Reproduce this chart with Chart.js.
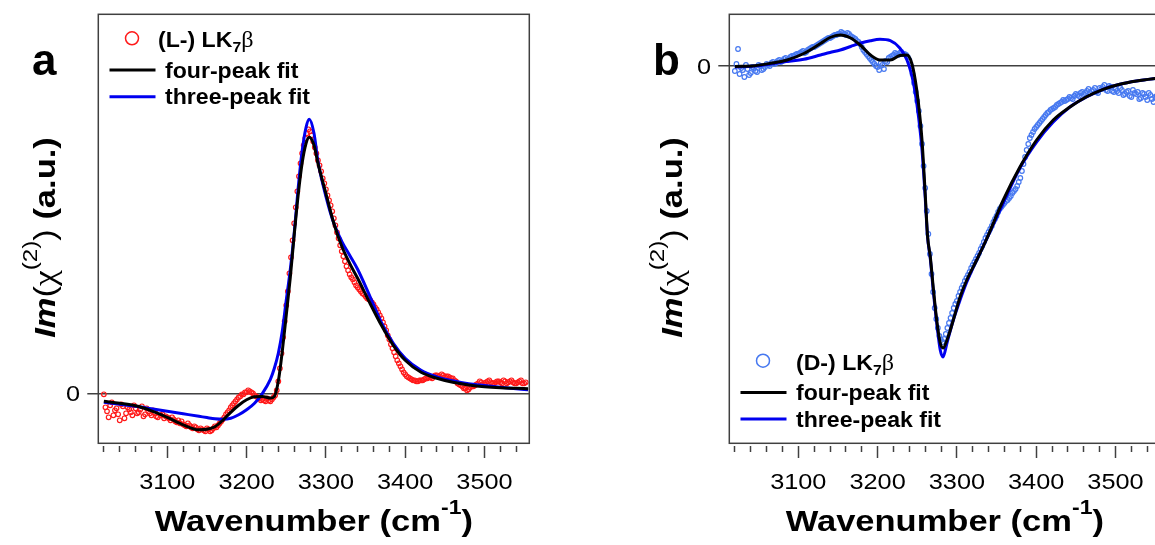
<!DOCTYPE html>
<html>
<head>
<meta charset="utf-8">
<script src="https://cdn.jsdelivr.net/npm/chart.js@4.4.1/dist/chart.umd.min.js"></script>
<style>
  html, body { margin: 0; padding: 0; background: #fff; overflow: hidden; width: 1155px; height: 545px; }
  .panel { position: absolute; top: 0; width: 560px; height: 545px; }
  #wrapA { left: 0; }
  #wrapB { left: 631px; }
</style>
</head>
<body>
<div class="panel" id="wrapA"><canvas id="chartA" width="560" height="545"></canvas></div>
<div class="panel" id="wrapB"><canvas id="chartB" width="560" height="545"></canvas></div>
<script>
// ---- data ----
const xTickLabels = [3100, 3200, 3300, 3400, 3500];

// panel a : (L-) LK7beta
const fitXA = [3020, 3040, 3060, 3080, 3100, 3120, 3140, 3150, 3160, 3170, 3180, 3190, 3200, 3210, 3220,
  3230, 3235, 3240, 3245, 3250, 3255, 3260, 3265, 3270, 3275, 3279, 3285, 3290, 3300, 3310,
  3320, 3330, 3340, 3355, 3370, 3385, 3400, 3420, 3440, 3460, 3480, 3500, 3520, 3540, 3555];
const fourPeakA = [-0.08, -0.10, -0.125, -0.175, -0.24, -0.315, -0.365, -0.36, -0.335, -0.27, -0.19, -0.12, -0.065, -0.035, -0.032,
  -0.048, -0.03, 0.12, 0.42, 0.78, 1.15, 1.58, 1.98, 2.30, 2.50, 2.56, 2.48, 2.30, 2.00, 1.70,
  1.47, 1.30, 1.15, 0.91, 0.68, 0.48, 0.33, 0.21, 0.15, 0.11, 0.083, 0.065, 0.055, 0.05, 0.046];
const threePeakA = [-0.09, -0.11, -0.13, -0.155, -0.18, -0.205, -0.23, -0.243, -0.255, -0.26, -0.25, -0.215, -0.165, -0.10, 0.0,
  0.14, 0.25, 0.40, 0.62, 0.93, 1.23, 1.60, 2.05, 2.42, 2.66, 2.74, 2.60, 2.32, 1.97, 1.70,
  1.52, 1.38, 1.24, 0.98, 0.71, 0.50, 0.35, 0.23, 0.165, 0.125, 0.095, 0.077, 0.06, 0.045, 0.035];

const dataXA = [3020, 3024, 3028, 3032, 3036, 3040, 3044, 3048, 3052, 3056,
  3060, 3064, 3068, 3072, 3076, 3080, 3084, 3088, 3092, 3096,
  3100, 3104, 3108, 3112, 3116, 3120, 3124, 3128, 3132, 3136,
  3140, 3144, 3148, 3152, 3156, 3160, 3164, 3168, 3172, 3176,
  3180, 3184, 3188, 3192, 3196, 3200, 3204, 3208, 3212, 3216,
  3220, 3224, 3228, 3232, 3236, 3240, 3244, 3248, 3252, 3256,
  3260, 3264, 3268, 3272, 3276, 3280, 3284, 3288, 3292, 3296,
  3300, 3304, 3308, 3312, 3316, 3320, 3324, 3328, 3332, 3336,
  3340, 3344, 3348, 3352, 3356, 3360, 3364, 3368, 3372, 3376,
  3380, 3384, 3388, 3392, 3396, 3400, 3404, 3408, 3412, 3416,
  3420, 3424, 3428, 3432, 3436, 3440, 3444, 3448, 3452, 3456,
  3460, 3464, 3468, 3472, 3476, 3480, 3484, 3488, 3492, 3496,
  3500, 3504, 3508, 3512, 3516, 3520, 3524, 3528, 3532, 3536,
  3540, 3544, 3548, 3552];
const signalA = [-0.01, -0.18, -0.12, -0.22, -0.15, -0.27, -0.13, -0.20, -0.16, -0.22,
  -0.15, -0.19, -0.13, -0.21, -0.18, -0.22, -0.20, -0.24, -0.22, -0.25,
  -0.24, -0.27, -0.26, -0.29, -0.30, -0.31, -0.33, -0.32, -0.35, -0.34,
  -0.37, -0.36, -0.38, -0.36, -0.37, -0.33, -0.32, -0.28, -0.24, -0.19,
  -0.14, -0.10, -0.06, -0.03, -0.01, 0.01, 0.02, 0.00, -0.03, -0.05,
  -0.06, -0.08, -0.07, -0.06, -0.02, 0.12, 0.40, 0.72, 1.02, 1.36,
  1.70, 2.02, 2.30, 2.48, 2.60, 2.62, 2.52, 2.40, 2.28, 2.15,
  2.04, 1.93, 1.82, 1.68, 1.55, 1.42, 1.32, 1.23, 1.16, 1.11,
  1.06, 1.02, 0.99, 0.95, 0.93, 0.89, 0.84, 0.78, 0.71, 0.63,
  0.54, 0.45, 0.37, 0.30, 0.24, 0.19, 0.16, 0.14, 0.13, 0.12,
  0.13, 0.14, 0.15, 0.16, 0.17, 0.18, 0.17, 0.18, 0.17, 0.16,
  0.15, 0.12, 0.09, 0.07, 0.05, 0.04, 0.07, 0.08, 0.10, 0.11,
  0.10, 0.12, 0.11, 0.10, 0.12, 0.11, 0.13, 0.10, 0.12, 0.11,
  0.10, 0.12, 0.10, 0.11];

// in-between samples of the same measurement
const dataXA2 = [3022, 3026, 3030, 3034, 3038, 3042, 3046, 3050, 3054, 3058,
  3062, 3066, 3070, 3074, 3078, 3082, 3086, 3090, 3094, 3098,
  3102, 3106, 3110, 3114, 3118, 3122, 3126, 3130, 3134, 3138,
  3142, 3146, 3150, 3154, 3158, 3162, 3166, 3170, 3174, 3178,
  3182, 3186, 3190, 3194, 3198, 3202, 3206, 3210, 3214, 3218,
  3222, 3226, 3230, 3234, 3238, 3242, 3246, 3250, 3254, 3258,
  3262, 3266, 3270, 3274, 3278, 3282, 3286, 3290, 3294, 3298,
  3302, 3306, 3310, 3314, 3318, 3322, 3326, 3330, 3334, 3338,
  3342, 3346, 3350, 3354, 3358, 3362, 3366, 3370, 3374, 3378,
  3382, 3386, 3390, 3394, 3398, 3402, 3406, 3410, 3414, 3418,
  3422, 3426, 3430, 3434, 3438, 3442, 3446, 3450, 3454, 3458,
  3462, 3466, 3470, 3474, 3478, 3482, 3486, 3490, 3494, 3498,
  3502, 3506, 3510, 3514, 3518, 3522, 3526, 3530, 3534, 3538,
  3542, 3546, 3550];
const signalA2 = [-0.14, -0.24, -0.09, -0.17, -0.21, -0.11, -0.25, -0.14, -0.19, -0.12,
  -0.20, -0.16, -0.23, -0.15, -0.20, -0.17, -0.23, -0.19, -0.21, -0.23,
  -0.25, -0.24, -0.28, -0.27, -0.28, -0.32, -0.30, -0.34, -0.33, -0.36,
  -0.35, -0.37, -0.35, -0.38, -0.35, -0.34, -0.30, -0.26, -0.21, -0.17,
  -0.12, -0.08, -0.04, -0.01, 0.01, 0.03, 0.01, -0.02, -0.04, -0.07,
  -0.07, -0.05, -0.08, -0.04, 0.03, 0.25, 0.56, 0.88, 1.20, 1.53,
  1.86, 2.17, 2.40, 2.55, 2.64, 2.58, 2.46, 2.33, 2.22, 2.10,
  1.98, 1.88, 1.75, 1.61, 1.48, 1.37, 1.27, 1.19, 1.14, 1.08,
  1.04, 1.00, 0.97, 0.94, 0.91, 0.86, 0.81, 0.75, 0.67, 0.58,
  0.49, 0.41, 0.33, 0.27, 0.21, 0.17, 0.15, 0.13, 0.12, 0.13,
  0.13, 0.15, 0.16, 0.15, 0.18, 0.17, 0.19, 0.16, 0.17, 0.15,
  0.13, 0.10, 0.08, 0.05, 0.03, 0.06, 0.07, 0.09, 0.12, 0.09,
  0.11, 0.13, 0.10, 0.11, 0.12, 0.10, 0.12, 0.11, 0.13, 0.10,
  0.11, 0.13, 0.10];

// panel b : (D-) LK7beta
const fitXB = [3020, 3045, 3065, 3085, 3107, 3128, 3140, 3153, 3166, 3178, 3191, 3203, 3216, 3228, 3237,
  3243, 3247.5, 3251.5, 3256, 3260, 3263, 3266.5, 3270.5, 3275, 3279, 3282.5, 3287.5, 3295.5, 3304, 3312.5,
  3325, 3337.5, 3358.5, 3379.5, 3400.5, 3421.5, 3442.5, 3463.5, 3484.5, 3505.5, 3526.5, 3547.5, 3556];
const fourPeakB = [-0.005, 0.003, 0.027, 0.058, 0.125, 0.225, 0.285, 0.31, 0.28, 0.21, 0.11, 0.06, 0.06, 0.105, 0.11,
  0.03, -0.14, -0.37, -0.74, -1.27, -1.70, -1.91, -2.24, -2.57, -2.77, -2.82, -2.74, -2.54, -2.31, -2.14,
  -1.94, -1.73, -1.34, -1.01, -0.74, -0.54, -0.41, -0.307, -0.233, -0.183, -0.15, -0.127, -0.12];
const threePeakB = [-0.01, 0.0, 0.02, 0.045, 0.067, 0.11, 0.135, 0.16, 0.195, 0.227, 0.253, 0.267, 0.253, 0.18, 0.06,
  -0.09, -0.273, -0.50, -0.84, -1.31, -1.71, -1.93, -2.27, -2.60, -2.84, -2.91, -2.77, -2.54, -2.34, -2.16,
  -1.94, -1.73, -1.37, -1.02, -0.76, -0.56, -0.41, -0.31, -0.233, -0.183, -0.15, -0.127, -0.12];

const dataXB = dataXA;
const signalB = [-0.05, 0.17, -0.02, -0.11, -0.03, -0.07, -0.02, -0.06, 0.00, -0.03,
  0.02, 0.00, 0.04, 0.03, 0.06, 0.05, 0.08, 0.07, 0.10, 0.11,
  0.12, 0.14, 0.13, 0.16, 0.18, 0.19, 0.21, 0.23, 0.25, 0.27,
  0.28, 0.30, 0.31, 0.32, 0.33, 0.31, 0.32, 0.29, 0.27, 0.24,
  0.19, 0.14, 0.10, 0.06, 0.02, -0.01, 0.03, -0.03, 0.04, 0.09,
  0.11, 0.12, 0.13, 0.12, 0.11, 0.06, -0.08, -0.26, -0.45, -0.78,
  -1.22, -1.68, -2.08, -2.42, -2.62, -2.74, -2.73, -2.62, -2.52, -2.42,
  -2.35, -2.26, -2.19, -2.12, -2.06, -1.99, -1.93, -1.87, -1.80, -1.72,
  -1.66, -1.60, -1.53, -1.46, -1.41, -1.37, -1.34, -1.30, -1.25, -1.20,
  -1.12, -0.98, -0.84, -0.72, -0.66, -0.61, -0.57, -0.53, -0.49, -0.46,
  -0.43, -0.41, -0.38, -0.36, -0.35, -0.33, -0.32, -0.30, -0.29, -0.27,
  -0.28, -0.25, -0.27, -0.24, -0.26, -0.22, -0.21, -0.24, -0.20, -0.25,
  -0.23, -0.27, -0.24, -0.28, -0.25, -0.31, -0.27, -0.26, -0.32, -0.28,
  -0.34, -0.29, -0.36, -0.30];

const dataXB2 = dataXA2;
const signalB2 = [0.02, -0.08, -0.04, 0.01, -0.09, -0.01, -0.05, 0.01, -0.04, -0.01,
  0.01, 0.03, 0.02, 0.05, 0.04, 0.07, 0.06, 0.09, 0.10, 0.12,
  0.13, 0.15, 0.14, 0.17, 0.19, 0.20, 0.22, 0.24, 0.26, 0.28,
  0.29, 0.31, 0.32, 0.34, 0.32, 0.33, 0.30, 0.28, 0.25, 0.22,
  0.16, 0.12, 0.08, 0.04, 0.00, -0.04, 0.01, 0.05, 0.08, 0.10,
  0.13, 0.11, 0.14, 0.12, 0.09, 0.00, -0.17, -0.35, -0.60, -1.00,
  -1.45, -1.88, -2.26, -2.53, -2.70, -2.76, -2.68, -2.57, -2.47, -2.38,
  -2.30, -2.22, -2.15, -2.09, -2.02, -1.96, -1.90, -1.83, -1.76, -1.69,
  -1.63, -1.56, -1.50, -1.43, -1.39, -1.35, -1.32, -1.27, -1.23, -1.16,
  -1.05, -0.91, -0.78, -0.69, -0.63, -0.59, -0.55, -0.51, -0.47, -0.44,
  -0.42, -0.39, -0.37, -0.34, -0.34, -0.31, -0.33, -0.28, -0.30, -0.26,
  -0.27, -0.23, -0.25, -0.22, -0.27, -0.23, -0.19, -0.25, -0.21, -0.26,
  -0.25, -0.22, -0.29, -0.26, -0.30, -0.24, -0.28, -0.33, -0.27, -0.31,
  -0.27, -0.33, -0.31];

// ---- look ----
const SANS = '"Liberation Sans", Arial, sans-serif';
const SERIF = '"Liberation Serif", "Times New Roman", serif';
const AXIS = '#404040';
const BLUE_FIT = '#0000f0';

function pairs(xs, ys) {
  return xs.map((x, i) => ({ x: x, y: ys[i] }));
}

// draws a run of text pieces [text, font, dy] one after another
function drawRun(ctx, segs, x, y, opts) {
  opts = opts || {};
  const sx = opts.sx || 1;
  ctx.save();
  ctx.translate(x, y);
  if (opts.rot) ctx.rotate(opts.rot);
  ctx.scale(sx, 1);
  ctx.fillStyle = '#000';
  ctx.textBaseline = 'alphabetic';
  ctx.textAlign = 'left';
  let total = 0;
  segs.forEach(s => { ctx.font = s[1]; total += ctx.measureText(s[0]).width; });
  let cx = 0;
  if (opts.align === 'center') cx = -total / 2;
  if (opts.align === 'right') cx = -total;
  segs.forEach(s => {
    ctx.font = s[1];
    ctx.fillText(s[0], cx, s[2] || 0);
    cx += ctx.measureText(s[0]).width;
  });
  ctx.restore();
}

function decorPlugin(p) {
  return {
    id: 'decor',
    afterDraw(chart) {
      const ctx = chart.ctx;
      const a = chart.chartArea;
      const xs = chart.scales.x;
      const ys = chart.scales.y;

      // frame
      ctx.save();
      ctx.strokeStyle = AXIS;
      ctx.lineWidth = 1.5;
      ctx.strokeRect(a.left, a.top, a.right - a.left, a.bottom - a.top);
      ctx.restore();

      // x tick labels
      xTickLabels.forEach(v => {
        drawRun(ctx, [[String(v), '22px ' + SANS]], xs.getPixelForValue(v), 489, { sx: 1.15, align: 'center' });
      });
      // zero label
      drawRun(ctx, [['0', '22px ' + SANS]], 80, ys.getPixelForValue(0) + 8, { sx: 1.15, align: 'right' });

      // axis titles
      drawRun(ctx, [
        ['Wavenumber (cm', 'bold 30px ' + SANS],
        ['-1', 'bold 20px ' + SANS, -17],
        [')', 'bold 30px ' + SANS]
      ], (a.left + a.right) / 2, 531, { sx: 1.15, align: 'center' });

      drawRun(ctx, [
        ['Im', 'italic bold 30px ' + SANS],
        ['(', '30px ' + SANS],
        ['\u03C7', '31px ' + SERIF],
        ['(2)', '21px ' + SANS, -18],
        [')', '30px ' + SANS],
        [' (a.u.)', 'bold 30px ' + SANS]
      ], p.titleX, 237.5, { sx: 1.15, align: 'center', rot: -Math.PI / 2 });

      // panel letter
      drawRun(ctx, [[p.letter, 'bold 44px ' + SANS]], p.letterX, 75);

      // legend
      ctx.save();
      ctx.beginPath();
      ctx.arc(132, p.legendY, 6.5, 0, 2 * Math.PI);
      ctx.strokeStyle = p.dotColor;
      ctx.lineWidth = 1.5;
      ctx.stroke();
      ctx.restore();
      drawRun(ctx, [
        [p.sample, 'bold 22px ' + SANS],
        ['7', 'bold 15px ' + SANS, 5],
        ['\u03B2', '23px ' + SERIF]
      ], p.sampleX, p.legendY + 9, { sx: 1.05 });

      [['#000000', 'four-peak fit', 31.7], [BLUE_FIT, 'three-peak fit', 58.4]].forEach(item => {
        const y = p.legendY + item[2];
        ctx.save();
        ctx.strokeStyle = item[0];
        ctx.lineWidth = 3;
        ctx.beginPath();
        ctx.moveTo(109.5, y);
        ctx.lineTo(155.5, y);
        ctx.stroke();
        ctx.restore();
        drawRun(ctx, [[item[1], 'bold 22px ' + SANS]], 165, y + 7.5, { sx: 1.05 });
      });
    }
  };
}

function isMajor(c) {
  return c.tick && Math.round(c.tick.value) % 100 === 0;
}

function makePanel(id, p) {
  return new Chart(document.getElementById(id), {
    type: 'scatter',
    data: {
      datasets: [
        {
          label: 'four-peak fit',
          data: pairs(p.fitX, p.four),
          showLine: true,
          borderColor: '#000000',
          borderWidth: 3,
          pointRadius: 0,
          cubicInterpolationMode: 'monotone'
        },
        {
          label: 'three-peak fit',
          data: pairs(p.fitX, p.three),
          showLine: true,
          borderColor: BLUE_FIT,
          borderWidth: 3,
          pointRadius: 0,
          cubicInterpolationMode: 'monotone'
        },
        {
          label: p.sample + '7\u03B2',
          data: pairs(p.dataX, p.dataY).concat(pairs(p.dataX2, p.dataY2)),
          showLine: false,
          pointRadius: 2.3,
          pointBorderWidth: 1.2,
          pointBorderColor: p.dotColor,
          pointBackgroundColor: 'rgba(0,0,0,0)'
        }
      ]
    },
    options: {
      responsive: false,
      animation: false,
      layout: { padding: { left: 0, top: 14.3, right: 30.7, bottom: 0 } },
      plugins: { legend: { display: false }, tooltip: { enabled: false } },
      scales: {
        x: {
          type: 'linear',
          min: 3013,
          max: 3556.5,
          afterFit(s) { s.height = 101.7; },
          border: { display: false },
          grid: {
            drawOnChartArea: false,
            drawTicks: true,
            tickLength: 15,
            tickColor: AXIS,
            tickWidth: 1.5,
            tickBorderDash: c => isMajor(c) ? [12, 100] : [6, 100],
            tickBorderDashOffset: c => isMajor(c) ? 109 : 103
          },
          ticks: { display: false, stepSize: 20, includeBounds: false, autoSkip: false, maxRotation: 0 }
        },
        y: {
          type: 'linear',
          min: p.yMin,
          max: p.yMax,
          afterFit(s) { s.width = 98.3; },
          border: { display: false },
          grid: {
            color: c => (c.tick && c.tick.value === 0) ? AXIS : 'rgba(0,0,0,0)',
            lineWidth: 1.5,
            tickLength: 11
          },
          ticks: { display: false, stepSize: 0.5, includeBounds: false }
        }
      }
    },
    plugins: [decorPlugin(p)]
  });
}

makePanel('chartA', {
  letter: 'a', letterX: 32, titleX: 54.5,
  sample: '(L-) LK', sampleX: 158, legendY: 38.3,
  dotColor: '#ff1a1a',
  fitX: fitXA, four: fourPeakA, three: threePeakA,
  dataX: dataXA, dataY: signalA, dataX2: dataXA2, dataY2: signalA2,
  yMin: -0.50, yMax: 3.79
});

makePanel('chartB', {
  letter: 'b', letterX: 22, titleX: 50.5,
  sample: '(D-) LK', sampleX: 165, legendY: 360.7,
  dotColor: 'rgb(70,120,240)',
  fitX: fitXB, four: fourPeakB, three: threePeakB,
  dataX: dataXB, dataY: signalB, dataX2: dataXB2, dataY2: signalB2,
  yMin: -3.773, yMax: 0.517
});
</script>
</body>
</html>
